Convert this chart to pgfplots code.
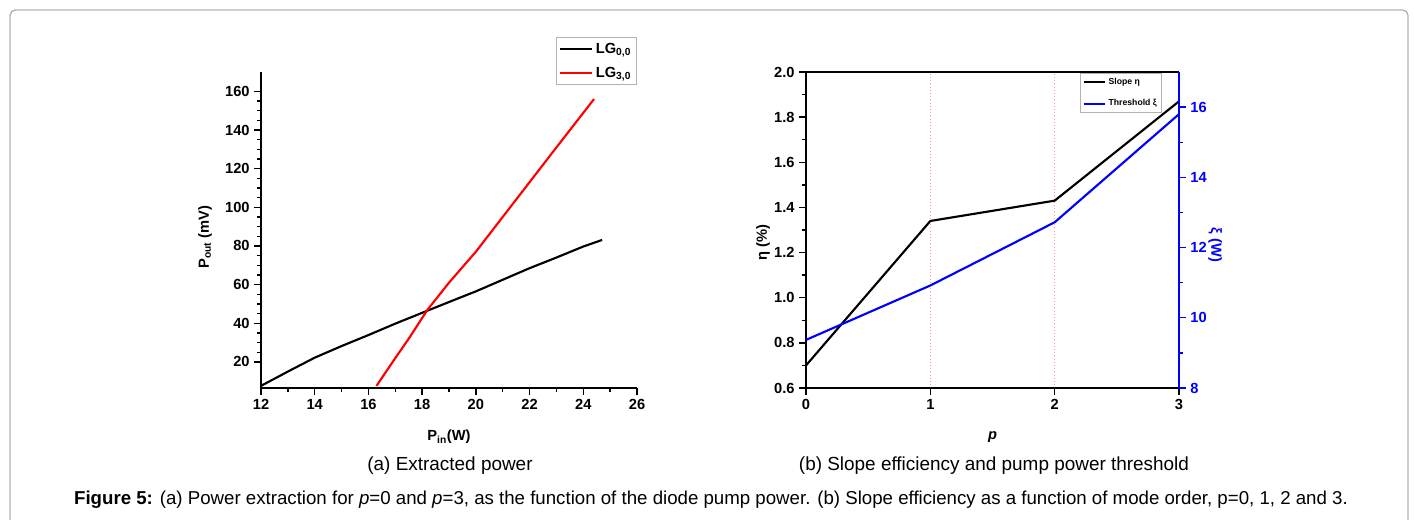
\documentclass[border=0pt]{standalone}
\usepackage{fontspec}
\setmainfont{Liberation Sans}
\usepackage{pgfplots}
\pgfplotsset{compat=1.18}

\pgfplotsset{
  origin/.style={
    scale only axis,
    clip=false,
    /pgf/number format/assume math mode=true,
    tick label style={font=\fontsize{11}{13}\selectfont\bfseries},
    label style={font=\fontsize{11}{13}\selectfont\bfseries},
    axis line style={line width=1.4pt},
    tick style={line width=1pt, black},
    tick align=outside,
    major tick length=5pt,
    minor tick length=3pt,
    legend cell align=left,
  }
}

\begin{document}
\begin{tikzpicture}
% frame and page size, in reference pixels (1 px = 0.75pt)
\begin{scope}[x=0.75pt, y=0.75pt]
  \useasboundingbox (0,0) rectangle (1414,519);
  \clip (0,0) rectangle (1414,519);
  \draw[gray!60, line width=1pt, rounded corners=4pt] (10,-30) rectangle (1408,509);
\end{scope}

% (a) extracted power
\begin{axis}[origin,
  at={(195.75pt,98.25pt)}, anchor=south west,
  width=282pt, height=237pt,
  xmin=12, xmax=26, ymin=6.5, ymax=170,
  axis x line*=bottom, axis y line*=left,
  xtick={12,14,16,18,20,22,24,26},
  ytick={20,40,60,80,100,120,140,160},
  minor x tick num=1, minor y tick num=3,
  xlabel={P\textsubscript{in}(W)},
  ylabel={P\textsubscript{out} (mV)},
  xlabel style={at={(axis description cs:0.5,-0.155)}, anchor=center},
  ylabel style={at={(axis description cs:-0.149,0.478)}, anchor=center},
  legend style={at={(axis description cs:1,1.111)}, anchor=north east,
    draw=gray!60, line width=0.8pt, font=\fontsize{11}{13}\selectfont\bfseries,
    inner sep=2pt, row sep=5pt},
  legend image code/.code={\draw[#1] (0pt,0pt) -- (24pt,0pt);},
]
\addplot[black, line width=1.6pt] coordinates {
  (12,7.6) (13,15) (14,22.2) (15,28.2) (16,33.9) (17,39.8) (18,45.4)
  (19,51) (20,56.5) (21,62.5) (22,68.5) (23,74) (24,79.7) (24.7,83.1)};
\addlegendentry{LG\textsubscript{0,0}}
\addplot[red, line width=1.6pt] coordinates {
  (16.3,7.6) (17,22) (17.5,32) (18.2,47) (18.6,54) (19,61) (20,77)
  (21,95) (22,113) (23,131) (24.4,156)};
\addlegendentry{LG\textsubscript{3,0}}
\end{axis}

% (b) slope efficiency, left axis
\begin{axis}[origin,
  at={(604.5pt,98.25pt)}, anchor=south west,
  width=279.75pt, height=237pt,
  xmin=0, xmax=3, ymin=0.6, ymax=2.0,
  axis x line*=box, axis y line*=left,
  xtick={0,1,2,3}, xtick pos=bottom, xticklabel pos=bottom,
  ytick={0.6,0.8,1.0,1.2,1.4,1.6,1.8,2.0},
  minor y tick num=1,
  yticklabel style={/pgf/number format/.cd, fixed, fixed zerofill, precision=1},
  xmajorgrids, grid style={red!40, dotted, line width=0.5pt},
  xlabel={\itshape p},
  ylabel={η (\%)},
  xlabel style={at={(axis description cs:0.5,-0.155)}, anchor=center},
  ylabel style={at={(axis description cs:-0.115,0.46)}, anchor=center},
]
\addplot[black, line width=1.6pt] coordinates {(0,0.70) (1,1.34) (2,1.43) (3,1.87)};
\end{axis}

% (b) pump power threshold, right axis
\begin{axis}[origin,
  at={(604.5pt,98.25pt)}, anchor=south west,
  width=279.75pt, height=237pt,
  xmin=0, xmax=3, ymin=8, ymax=17,
  axis x line=none, axis y line*=right,
  ytick={8,10,12,14,16}, minor y tick num=1,
  y axis line style={blue},
  yticklabel style={blue},
  tick style={blue},
  ylabel={ξ (W)},
  ylabel style={blue, at={(axis description cs:1.097,0.453)}, anchor=center, rotate=180},
  legend style={at={(axis description cs:0.954,0.997)}, anchor=north east,
    draw=gray!60, line width=0.6pt, font=\fontsize{6.5}{8}\selectfont\bfseries,
    inner sep=1.5pt, row sep=6pt},
  legend image code/.code={\draw[#1] (0pt,0pt) -- (16pt,0pt);},
]
\addlegendimage{black, line width=1.6pt}
\addlegendentry{Slope η}
\addplot[blue, line width=1.6pt] coordinates {(0,9.37) (1,10.92) (2,12.72) (3,15.80)};
\addlegendentry{Threshold ξ}
\end{axis}

\begin{scope}[x=0.75pt, y=0.75pt]
\node[font=\fontsize{14.2}{17}\selectfont] at (450,53) {(a) Extracted power};
\node[font=\fontsize{14.2}{17}\selectfont] at (994,53) {(b) Slope efficiency and pump power threshold};
\node[font=\fontsize{14}{17}\selectfont] at (711,19) {\textbf{Figure 5:} (a) Power extraction for \textit{p}=0 and \textit{p}=3, as the function of the diode pump power. (b) Slope efficiency as a function of mode order, p=0, 1, 2 and 3.};
\end{scope}
\end{tikzpicture}
\end{document}
